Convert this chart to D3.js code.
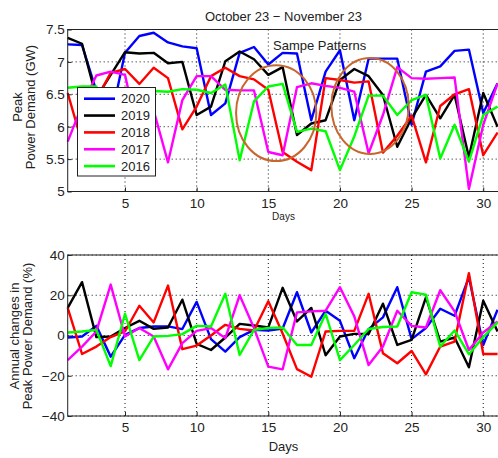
<!DOCTYPE html>
<html>
<head>
<meta charset="utf-8">
<script src="https://cdn.jsdelivr.net/npm/d3@7"></script>
<style>
  body { margin: 0; background: #fff; }
  text { font-family: 'Liberation Sans', Arial, sans-serif; fill: #222; }
</style>
</head>
<body>
<div id="chart"></div>
<script>
// days on the x axis
const days = [1, 2, 3, 4, 5, 6, 7, 8, 9, 10, 11, 12, 13, 14, 15, 16, 17, 18, 19, 20, 21, 22, 23, 24, 25, 26, 27, 28, 29, 30, 31];

// peak power demand (GW)
const peak2020 = [7.27, 7.26, 6.55, 6.1, 7.14, 7.4, 7.45, 7.3, 7.24, 7.21, 6.18, 6.36, 7.14, 7.23, 6.96, 7.14, 7.13, 6.1, 6.85, 7.18, 6.1, 7.05, 7.05, 7.05, 6.03, 6.85, 6.93, 7.17, 7.19, 6.21, 6.67];
const peak2019 = [7.37, 7.28, 6.45, 6.8, 7.15, 7.13, 7.14, 6.98, 7.0, 6.18, 6.31, 7.01, 7.16, 7.04, 6.8, 6.92, 5.87, 6.05, 6.1, 6.72, 6.89, 6.78, 6.49, 5.69, 6.13, 6.49, 6.13, 6.49, 5.53, 6.52, 6.0];
const peak2018 = [6.52, 5.75, 6.42, 6.83, 6.89, 6.66, 6.91, 6.75, 5.96, 6.31, 6.78, 6.91, 6.78, 6.73, 6.57, 5.61, 5.46, 5.33, 6.75, 6.72, 6.68, 6.7, 5.6, 5.86, 6.17, 5.45, 6.32, 6.5, 6.58, 5.56, 5.91];
const peak2017 = [5.77, 6.33, 6.79, 6.85, 6.8, 5.8, 6.25, 5.45, 6.41, 6.78, 6.78, 6.57, 6.56, 6.56, 5.61, 5.56, 6.61, 6.67, 6.63, 6.6, 6.54, 5.59, 6.18, 6.92, 6.75, 6.74, 6.75, 6.76, 5.04, 6.03, 6.67];
const peak2016 = [6.6, 6.62, 6.62, 5.5, 6.3, 5.6, 6.55, 6.54, 6.58, 6.57, 6.52, 6.65, 5.48, 6.39, 6.62, 6.66, 5.92, 5.97, 5.93, 5.33, 5.85, 6.48, 6.48, 6.18, 6.41, 6.49, 5.51, 6.03, 5.46, 6.18, 6.31];

// annual changes (%)
const change2020 = [-1, -0.5, 4.8, -10.5, 0.3, 3.7, 4.5, 4.5, 3.2, 16.7, -1.8, -8, -0.8, 2.8, 2.5, 3.5, 21.5, 1.5, 12.3, 7.3, -11.3, 3.2, 9, 24, -1.8, 3.7, 13.3, 9.8, 29, -4.7, 12.8];
const change2019 = [13.7, 26.5, -0.8, -0.5, 3.7, 7.3, 3.3, 4, 17.8, -4.2, -7.2, -1, 5.8, 5, 4, 23.7, 7, 13.7, -9.8, -0.5, 0.8, 0.8, 15.8, -4.7, -2.2, 19, -3, -1, -15.8, 17.3, 2];
const change2018 = [13.7, -9.2, -5.5, -0.8, 2, 14.8, 6.5, 24.8, -6.8, -5, 0, 5.3, 3.3, 2.5, 17, 1, -16.7, -20.5, 2, 2.3, 2.3, 20.7, -8.8, -13.8, -7.7, -19.3, -5.5, -3, 31, -9.2, -9.2];
const change2017 = [-12.2, -5.5, 2, 25.3, -0.5, 3.7, -0.5, -16.8, -3.8, 2.3, 3.7, -1.3, 20, 3.7, -15.5, -16.8, 11.5, 12, 12.3, 24, 9.5, -14.7, -5.5, 12.3, 4.8, 4, 22.5, 12, -7.2, 1.5, 7];
const change2016 = [1.5, 2, 2.8, -15.2, 10.8, -12.2, -0.5, -0.2, 0.7, 4.8, 4.5, 20.7, -9.7, 2.8, 3.7, 4, -4.7, -4.7, 10.8, -12.2, -4.7, 3.2, 4.2, 4.5, 21.5, 20.3, -5.5, 2.5, -9.3, -0.8, 6.5];

const years = ['2020', '2019', '2018', '2017', '2016'];
const colors = ['#0000ff', '#000000', '#ff0000', '#ff00ff', '#00ff00'];

const xTicks = [5, 10, 15, 20, 25, 30];
const peakTicks = [5, 5.5, 6, 6.5, 7, 7.5];
const peakTickLabels = ['5', '5.5', '6', '6.5', '7', '7.5'];
const changeTicks = [-40, -20, 0, 20, 40];
const changeTickLabels = ['\u221240', '\u221220', '0', '20', '40'];

// the two "same pattern" circles: [day, GW, radius in days, radius in GW]
const patternDays = [15.55, 22.1];
const patternPeaks = [6.21, 6.32];
const patternRx = [2.8, 2.7];
const patternRy = [0.74, 0.74];

class Panel {
  constructor(svg, top, bottom, yDomain) {
    this.svg = svg;
    this.left = 67.7;
    this.right = 499;
    this.top = top;
    this.bottom = bottom;

    this.x = d3.scaleLinear().domain([1, 31.1]).range([this.left, this.right]);
    this.y = d3.scaleLinear().domain(yDomain).range([bottom, top]);

    this.g = svg.append('g');
  }

  drawGrid(yTicks) {
    const grid = this.g.append('g').attr('stroke', '#111').attr('stroke-dasharray', '1,3').attr('stroke-width', 1);

    grid.selectAll('line.vx')
      .data(xTicks)
      .enter()
      .append('line')
      .attr('x1', (d) => this.x(d))
      .attr('x2', (d) => this.x(d))
      .attr('y1', this.top)
      .attr('y2', this.bottom);

    grid.selectAll('line.hy')
      .data(yTicks)
      .enter()
      .append('line')
      .attr('x1', this.left)
      .attr('x2', this.right)
      .attr('y1', (d) => this.y(d))
      .attr('y2', (d) => this.y(d));
  }

  drawAxes(yTicks, yLabels, tickY) {
    // matlab style ticks point inward, so use negative tick size
    const xAxis = d3.axisBottom(this.x).tickValues(xTicks).tickSizeInner(-4).tickSizeOuter(0).tickPadding(0);
    const yAxis = d3.axisLeft(this.y).tickValues(yTicks).tickFormat((d, i) => yLabels[i]).tickSizeInner(-4).tickSizeOuter(0).tickPadding(3);

    const gx = this.g.append('g').attr('transform', `translate(0,${this.bottom})`).call(xAxis);
    gx.select('.domain').remove();
    gx.selectAll('text').attr('y', tickY - this.bottom).attr('dy', 0);

    const gy = this.g.append('g').attr('transform', `translate(${this.left},0)`).call(yAxis);
    gy.select('.domain').remove();

    this.g.selectAll('.tick line').attr('stroke', '#222');
    this.g.selectAll('.tick text').attr('font-size', 13.5).attr('font-family', "'Liberation Sans', Arial, sans-serif").attr('fill', '#222');

    // box around plot
    this.g.append('rect')
      .attr('x', this.left)
      .attr('y', this.top)
      .attr('width', this.right - this.left)
      .attr('height', this.bottom - this.top)
      .attr('fill', 'none')
      .attr('stroke', '#222')
      .attr('stroke-width', 1);
  }

  drawLines(seriesList) {
    const line = d3.line()
      .x((d) => this.x(d.day))
      .y((d) => this.y(d.value));

    // matlab draws 2020 first, 2016 last (on top)
    this.g.selectAll('path.series')
      .data(seriesList)
      .enter()
      .append('path')
      .attr('class', 'series')
      .attr('d', (s) => line(days.map((day, i) => ({ day: day, value: s.values[i] }))))
      .attr('fill', 'none')
      .attr('stroke', (s) => s.color)
      .attr('stroke-width', 2.4)
      .attr('stroke-linejoin', 'round');
  }
}

const svg = d3.select('#chart').append('svg').attr('width', 498).attr('height', 458);

// ---- top plot
const topPanel = new Panel(svg, 29.5, 191.5, [5, 7.5]);
topPanel.drawGrid(peakTicks);

const peaks = [peak2020, peak2019, peak2018, peak2017, peak2016];
topPanel.drawLines(peaks.map((values, i) => ({ values: values, color: colors[i] })));

// brown circles marking repeated patterns
topPanel.g.selectAll('ellipse')
  .data(patternDays)
  .enter()
  .append('ellipse')
  .attr('cx', (d) => topPanel.x(d))
  .attr('cy', (d, i) => topPanel.y(patternPeaks[i]))
  .attr('rx', (d, i) => topPanel.x(1 + patternRx[i]) - topPanel.x(1))
  .attr('ry', (d, i) => topPanel.y(5) - topPanel.y(5 + patternRy[i]))
  .attr('fill', 'none')
  .attr('stroke', '#c8662e')
  .attr('stroke-width', 2);

topPanel.drawAxes(peakTicks, peakTickLabels, 208);

svg.append('text').attr('x', 273).attr('y', 50).attr('font-size', 13).text('Sampe Patterns');

// legend box
const legend = svg.append('g');
legend.append('rect')
  .attr('x', 77.5)
  .attr('y', 87.5)
  .attr('width', 78)
  .attr('height', 88.5)
  .attr('fill', '#fff')
  .attr('stroke', '#222');

const legendRow = legend.selectAll('g.row')
  .data(years)
  .enter()
  .append('g')
  .attr('transform', (d, i) => `translate(0,${98.7 + i * 16.85})`);

legendRow.append('line')
  .attr('x1', 84)
  .attr('x2', 115)
  .attr('stroke', (d, i) => colors[i])
  .attr('stroke-width', 2.6);

legendRow.append('text')
  .attr('x', 121)
  .attr('y', 4.6)
  .attr('font-size', 13)
  .text((d) => d);

svg.append('text').attr('x', 283.5).attr('y', 21).attr('text-anchor', 'middle').attr('font-size', 13).text('October 23 \u2212 November 23');
svg.append('text').attr('x', 283.5).attr('y', 220).attr('text-anchor', 'middle').attr('font-size', 10).text('Days');

// y label (two lines, rotated)
svg.append('text').attr('transform', 'translate(21.5,107) rotate(-90)').attr('text-anchor', 'middle').attr('font-size', 13).text('Peak');
svg.append('text').attr('transform', 'translate(34.5,107) rotate(-90)').attr('text-anchor', 'middle').attr('font-size', 13).text('Power Demand (GW)');

// ---- bottom plot
const bottomPanel = new Panel(svg, 255, 416, [-40, 40]);
bottomPanel.drawGrid(changeTicks);

const changes = [change2020, change2019, change2018, change2017, change2016];
bottomPanel.drawLines(changes.map((values, i) => ({ values: values, color: colors[i] })));
bottomPanel.drawAxes(changeTicks, changeTickLabels, 432);

svg.append('text').attr('x', 283.5).attr('y', 451).attr('text-anchor', 'middle').attr('font-size', 13).text('Days');
svg.append('text').attr('transform', 'translate(19,336) rotate(-90)').attr('text-anchor', 'middle').attr('font-size', 13).text('Annual changes in');
svg.append('text').attr('transform', 'translate(32,336) rotate(-90)').attr('text-anchor', 'middle').attr('font-size', 13).text('Peak Power Demand (%)');
</script>
</body>
</html>
